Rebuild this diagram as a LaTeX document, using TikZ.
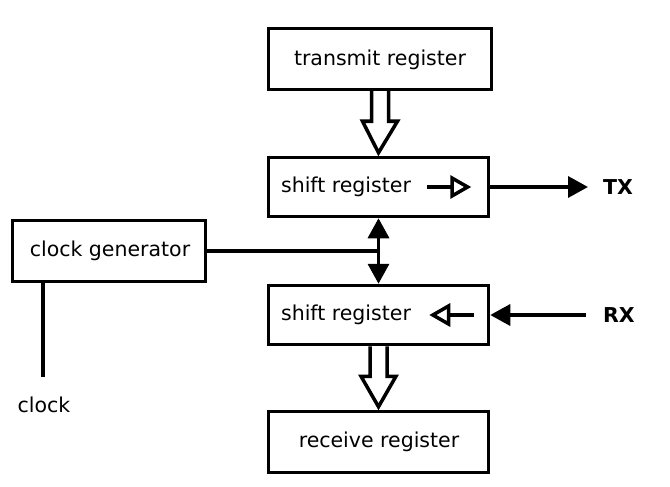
\documentclass[tikz,border=0pt]{standalone}
\usepackage{fontspec}
\setmainfont{DejaVu Sans}
\usetikzlibrary{arrows.meta,calc}
\begin{document}
\begin{tikzpicture}[x=1pt,y=-1pt,
  every node/.style={font=\fontsize{20.5}{24}\selectfont},
  box/.style={draw,line width=3.5pt,minimum width=220pt,minimum height=59pt,inner sep=0pt},
  wire/.style={line width=3.5pt},
  bigtip/.style={-{Triangle[length=20pt,width=21pt]}},
  smalltip/.style={-{Triangle[open,length=21pt,width=23pt,line width=3.5pt]}},
  fat/.style={draw,line width=3.5pt,fill=white,line join=miter}]
\useasboundingbox (0,0) rectangle (670,487);
% boxes
\node[box,minimum width=223pt,minimum height=61pt] (tr) at (380,59) {};
\node (trt) at (380,59.5) {transmit register};
\node[box] (sr1) at (378.5,187) {};
\node (sr1t) at (346,187) {shift register};
\node[box] (sr2) at (378.5,315) {};
\node (sr2t) at (346,315) {shift register};
\node[box,minimum width=220pt,minimum height=61pt] (rr) at (378.5,442) {};
\node (rrt) at (379,442) {receive register};
\node[box,minimum width=193pt,minimum height=61pt] (cg) at (109,251) {};
\node (cgt) at (110,251) {clock generator};
% labels
\node[anchor=west,inner sep=0pt,font=\fontsize{20.5}{24}\selectfont\bfseries] (tx) at (603,187) {TX};
\node[anchor=west,inner sep=0pt,font=\fontsize{20.5}{24}\selectfont\bfseries] (rx) at (603,315) {RX};
\coordinate (clk) at (43,377);
\node (clkt) at (44,405) {clock};
% fat hollow arrows
\draw[fat] ($(tr.south)+(-8.5,0)$) -- ++(0,30) -- ++(-9,0) -- ($(sr1.north)+(0,-3)$)
  -- ($(tr.south)+(17.5,30)$) -- ++(-9,0) -- ($(tr.south)+(8.5,0)$);
\draw[fat] ($(sr2.south)+(-8.5,0)$) -- ++(0,30) -- ++(-9,0) -- ($(rr.north)+(0,-3)$)
  -- ($(sr2.south)+(17.5,30)$) -- ++(-9,0) -- ($(sr2.south)+(8.5,0)$);
% small internal arrows
\draw[wire,smalltip] ($(sr1.east)+(-63,0)$) -- ($(sr1.east)+(-19,0)$);
\draw[wire,smalltip] ($(sr2.east)+(-16,0)$) -- ($(sr2.east)+(-61,0)$);
% TX / RX
\draw[wire,bigtip] (sr1.east) -- (tx.west) [shorten >=15pt];
\draw[wire,bigtip,shorten <=17pt] (rx.west) -- (sr2.east);
% clock
\draw[wire] (cg.east) -- (cg.east -| sr1.south);
\draw[wire,{Triangle[length=20pt,width=21pt]}-{Triangle[length=20pt,width=21pt]}] (sr1.south) -- (sr2.north);
\draw[wire] (cg.south -| clk) -- (clk);
\end{tikzpicture}
\end{document}
